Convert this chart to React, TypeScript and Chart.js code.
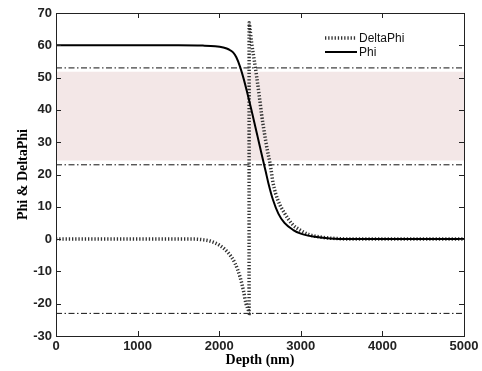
import React, { useEffect, useRef } from 'react';
import { Chart, registerables } from 'chart.js';

Chart.register(...registerables);

// ---- data ----
const phiDepth = [0, 1500, 1800, 1950, 2050, 2120, 2170, 2210, 2255, 2300, 2337, 2390, 2439, 2470, 2500, 2541, 2570, 2602, 2660, 2725, 2800, 2908, 3000, 3150, 3358, 3600, 5000];
const phiValues = [60, 60, 59.9, 59.7, 59.3, 58.7, 57.8, 56.3, 53.4, 49.6, 46.0, 40.5, 35.2, 31.8, 28.5, 24.0, 20.9, 17.4, 12.1, 7.9, 5.0, 2.8, 1.7, 0.8, 0.2, 0, 0];

const deltaDepth = [0, 1700, 1800, 1887, 2010, 2112, 2194, 2255, 2296, 2328, 2357, 2366, 2367, 2380, 2398, 2430, 2459, 2490, 2520, 2550, 2590, 2623, 2663, 2720, 2806, 2900, 2990, 3100, 3250, 3450, 3700, 5000];
const deltaValues = [0, 0, -0.2, -0.6, -2, -4.3, -7.5, -11.7, -15.8, -19.9, -22, -23, 67, 64.5, 60.6, 55.3, 50.3, 44.5, 38.5, 33.5, 27.5, 23.5, 17, 12, 7.8, 4.5, 2.8, 1.4, 0.6, 0.15, 0, 0];

const refLevels = [53, 23, -23];
const bandRange = [24.3, 51.8];
const depthRange = [0, 5000];
const yRange = [-30, 70];
const xStep = 1000;
const yStep = 10;

const seriesNames = ['DeltaPhi', 'Phi'];
const xTitle = 'Depth (nm)';
const yTitle = 'Phi & DeltaPhi';

const toPoints = (xs: number[], ys: number[]) => xs.map((x, i) => ({ x, y: ys[i] }));

const framePlugin = {
  id: 'frameTicks',
  afterDatasetsDraw(chart: any) {
    const { ctx, chartArea: a, scales } = chart;
    const len = 5;
    ctx.save();
    ctx.strokeStyle = '#222';
    ctx.lineWidth = 1;
    ctx.setLineDash([]);
    ctx.beginPath();
    scales.x.ticks.forEach((t: any) => {
      const px = Math.round(scales.x.getPixelForValue(t.value)) + 0.5;
      ctx.moveTo(px, a.bottom);
      ctx.lineTo(px, a.bottom - len);
      ctx.moveTo(px, a.top);
      ctx.lineTo(px, a.top + len);
    });
    scales.y.ticks.forEach((t: any) => {
      const py = Math.round(scales.y.getPixelForValue(t.value)) + 0.5;
      ctx.moveTo(a.left, py);
      ctx.lineTo(a.left + len, py);
      ctx.moveTo(a.right, py);
      ctx.lineTo(a.right - len, py);
    });
    ctx.stroke();
    ctx.strokeRect(Math.round(a.left) + 0.5, Math.round(a.top) + 0.5, Math.round(a.right - a.left), Math.round(a.bottom - a.top));
    ctx.restore();
  },
};

const legendPlugin = {
  id: 'insideLegend',
  afterDraw(chart: any) {
    const { ctx, chartArea: a } = chart;
    const items = chart.data.datasets.filter((d: any) => seriesNames.includes(d.label));
    items.sort((p: any, q: any) => seriesNames.indexOf(p.label) - seriesNames.indexOf(q.label));
    const x0 = a.right - 139;
    const lineLen = 32;
    ctx.save();
    items.forEach((d: any, i: number) => {
      const y = a.top + 25 + i * 14;
      ctx.beginPath();
      ctx.strokeStyle = d.borderColor;
      ctx.lineWidth = d.borderWidth;
      ctx.setLineDash(d.borderDash || []);
      ctx.moveTo(x0, y);
      ctx.lineTo(x0 + lineLen, y);
      ctx.stroke();
      ctx.setLineDash([]);
      ctx.fillStyle = '#111';
      ctx.font = '12px "Liberation Sans", Arial, sans-serif';
      ctx.textBaseline = 'middle';
      ctx.textAlign = 'left';
      ctx.fillText(d.label, x0 + lineLen + 2, y + 0.5);
    });
    ctx.restore();
  },
};

export default function App() {
  const ref = useRef<HTMLCanvasElement | null>(null);

  useEffect(() => {
    if (!ref.current) return;
    const refSets = refLevels.map((v, i) => ({
      label: 'ref' + i,
      data: toPoints(depthRange, [v, v]),
      borderColor: '#111',
      borderWidth: 1,
      borderDash: [6, 2.5, 1.5, 2.5],
      pointRadius: 0,
      fill: false,
      order: 3,
    }));
    const chart = new Chart(ref.current, {
      type: 'line',
      data: {
        datasets: [
          {
            label: 'Phi',
            data: toPoints(phiDepth, phiValues),
            borderColor: '#000',
            borderWidth: 2,
            pointRadius: 0,
            cubicInterpolationMode: 'monotone',
            fill: false,
            order: 1,
          },
          {
            label: 'DeltaPhi',
            data: toPoints(deltaDepth, deltaValues),
            borderColor: '#333',
            borderWidth: 3.5,
            borderDash: [1.3, 1.9],
            borderCapStyle: 'butt',
            pointRadius: 0,
            cubicInterpolationMode: 'monotone',
            fill: false,
            order: 2,
          },
          ...refSets,
          {
            label: 'bandTop',
            data: toPoints(depthRange, [bandRange[1], bandRange[1]]),
            borderWidth: 0,
            borderColor: 'rgba(0,0,0,0)',
            backgroundColor: 'rgb(243,231,231)',
            pointRadius: 0,
            fill: '+1',
            order: 10,
          },
          {
            label: 'bandBottom',
            data: toPoints(depthRange, [bandRange[0], bandRange[0]]),
            borderWidth: 0,
            borderColor: 'rgba(0,0,0,0)',
            pointRadius: 0,
            fill: false,
            order: 10,
          },
        ] as any,
      },
      options: {
        responsive: false,
        animation: false,
        events: [],
        layout: { padding: { left: 0, top: 13, right: 18, bottom: 0 } },
        plugins: {
          legend: { display: false },
          tooltip: { enabled: false },
        },
        scales: {
          x: {
            type: 'linear',
            min: depthRange[0],
            max: depthRange[1],
            ticks: {
              stepSize: xStep,
              padding: 3,
              color: '#222',
              font: { family: '"Liberation Sans", Arial, sans-serif', size: 13, weight: 'bold' },
              maxRotation: 0,
              callback: (v: any) => String(v),
            },
            grid: { display: false, drawTicks: false },
            border: { display: false },
            title: {
              display: true,
              text: xTitle,
              color: '#000',
              font: { family: '"Liberation Serif", "Times New Roman", serif', size: 14, weight: 'bold' },
              padding: { top: 0, bottom: 2 },
            },
            afterFit: (s: any) => { s.height = 35; },
          },
          y: {
            type: 'linear',
            min: yRange[0],
            max: yRange[1],
            ticks: {
              stepSize: yStep,
              padding: 4,
              color: '#222',
              font: { family: '"Liberation Sans", Arial, sans-serif', size: 13, weight: 'bold' },
              callback: (v: any) => String(v),
            },
            grid: { display: false, drawTicks: false },
            border: { display: false },
            title: {
              display: true,
              text: yTitle,
              color: '#000',
              font: { family: '"Liberation Serif", "Times New Roman", serif', size: 14, weight: 'bold' },
              padding: { top: 15, bottom: 0 },
            },
            afterFit: (s: any) => { s.width = 56; },
          },
        },
      } as any,
      plugins: [framePlugin, legendPlugin],
    });
    return () => chart.destroy();
  }, []);

  return (
    <div style={{ position: 'absolute', left: 0, top: 0, width: 482, height: 371, background: '#fff' }}>
      <canvas ref={ref} width={482} height={371} style={{ display: 'block' }} />
    </div>
  );
}
